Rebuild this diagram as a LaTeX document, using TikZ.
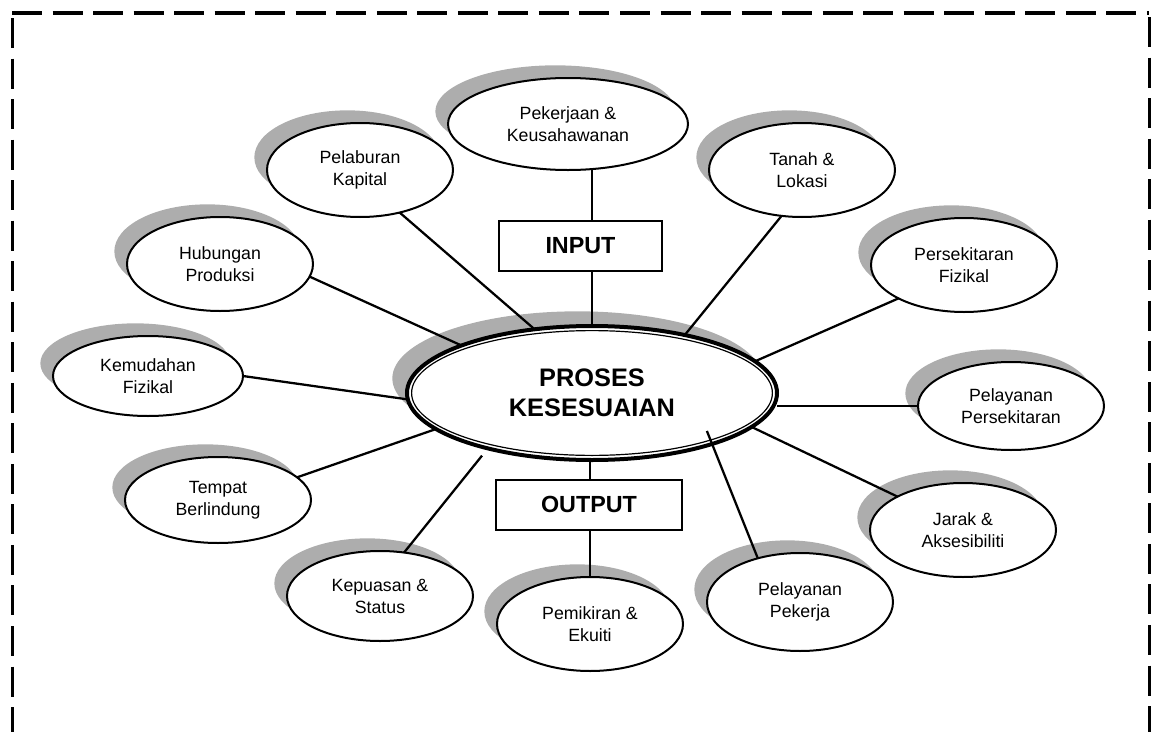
\documentclass[tikz,border=0pt]{standalone}
\usepackage{fontspec}
\setmainfont{Liberation Sans}
\usetikzlibrary{shapes.geometric,shadows}

\begin{document}
\begin{tikzpicture}[x=0.75pt, y=-0.75pt,
    bubble/.style={ellipse, draw, line width=1.5pt, fill=white,
                   inner sep=0pt, outer sep=0pt, align=center,
                   minimum width=139.5pt, minimum height=70.5pt,
                   font=\fontsize{13.3}{16.5}\selectfont,
                   drop shadow={opacity=1, fill=black!32,
                                shadow xshift=-9.5pt, shadow yshift=9.5pt}},
    proc/.style={ellipse, draw, line width=3pt, fill=white,
                 inner sep=0pt, outer sep=0pt, align=center,
                 minimum width=277.5pt, minimum height=100.5pt,
                 font=\fontsize{19}{22.5}\selectfont\bfseries,
                 drop shadow={opacity=1, fill=black!32,
                              shadow xshift=-11pt, shadow yshift=11pt}},
    iobox/.style={rectangle, draw, line width=1.5pt, fill=white,
                  outer sep=0pt, minimum width=122pt, minimum height=37.5pt,
                  font=\fontsize{17.5}{20}\selectfont\bfseries},
    link/.style={line width=1.7pt},
    frame line/.style={line width=2.5pt, dash pattern=on 22.5pt off 7.9pt}]

    \useasboundingbox (0,0) rectangle (1158,732);

    % dashed frame (open at the bottom)
    \draw[frame line] (12,13) -- (1149,13);
    \draw[frame line] (12.5,18) -- (12.5,760);
    \draw[frame line] (1149.5,17) -- (1149.5,760);

    \node[bubble, minimum width=180pt, minimum height=69pt]
                          (pekerjaan)      at (568,124) {Pekerjaan \&\\Keusahawanan};
    \node[bubble]         (pelaburan)      at (360,170) {Pelaburan\\Kapital};
    \node[bubble]         (tanah)          at (802,170) {Tanah \&\\Lokasi};
    \node[bubble]         (hubungan)       at (220,264) {Hubungan\\Produksi};
    \node[bubble]         (persekitaran)   at (964,265) {Persekitaran\\Fizikal};
    \node[bubble, minimum width=142.5pt, minimum height=60pt]
                          (kemudahan)      at (148,376) {Kemudahan\\Fizikal};
    \node[bubble, minimum height=66pt]
                          (pelayanan_pers) at (1011,406) {Pelayanan\\Persekitaran};
    \node[bubble, minimum height=64.5pt]
                          (tempat)         at (218,500) {Tempat\\Berlindung};
    \node[bubble]         (jarak)          at (963,530) {Jarak \&\\Aksesibiliti};
    \node[bubble, minimum height=67.5pt]
                          (kepuasan)       at (380,596) {Kepuasan \&\\Status};
    \node[bubble]         (pemikiran)      at (590,624) {Pemikiran \&\\Ekuiti};
    \node[bubble, minimum height=73.5pt]
                          (pelayanan_pek)  at (800,602) {Pelayanan\\Pekerja};

    \node[proc]           (proses)         at (592,393) {PROSES\\KESESUAIAN};
    \draw[line width=0.9pt] (proses.center) ellipse [x radius=135.3pt, y radius=46.8pt];

    \node[iobox]          (input)          at (580.5,246) {INPUT};
    \node[iobox, minimum width=139pt]
                          (output)         at (589,504.5) {OUTPUT};

    % Define connections
    \path[link]
     (pekerjaan.south -| proses.north) edge (input.north -| proses.north)
     (input.south -| proses.north)     edge (proses.north)
     (proses.south -| pemikiran.north) edge (output.north -| pemikiran.north)
     (output.south -| pemikiran.north) edge (pemikiran.north)
     (pelaburan.-47)                   edge (proses.132)
     (tanah.-114)                      edge (proses.32)
     (hubungan.-8)                     edge (proses.160)
     (persekitaran.207)                edge (proses.11)
     (kemudahan.east)                  edge (proses.182)
     (pelayanan_pers.west)             edge (proses.east |- pelayanan_pers.west)
     (tempat.16)                       edge (proses.193)
     (kepuasan.61)                     edge [shorten >=7pt]     (proses.208)
     (pelayanan_pek.134)               edge [shorten >=-10.5pt] (proses.-23)
     (jarak.153)                       edge (proses.-12);

\end{tikzpicture}
\end{document}
